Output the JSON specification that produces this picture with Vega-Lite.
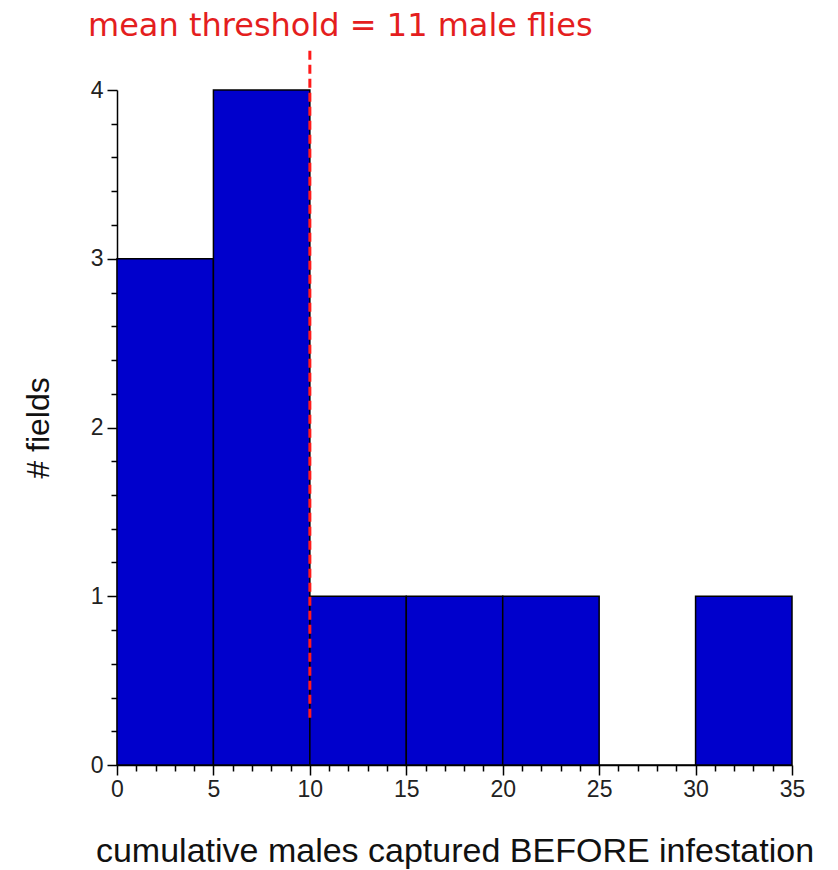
{
  "$schema": "https://vega.github.io/schema/vega-lite/v6.json",
  "width": 675,
  "height": 675,
  "autosize": {"type": "none"},
  "padding": {"left": 117, "top": 90, "right": 46, "bottom": 105},
  "background": "white",
  "config": {"view": {"stroke": null}},
  "title": {
    "text": "mean threshold = 11 male flies",
    "anchor": "start",
    "frame": "group",
    "dx": -29,
    "offset": -27,
    "baseline": "bottom",
    "font": "DejaVu Sans",
    "fontSize": 32,
    "fontWeight": "normal",
    "color": "#e41e1e"
  },
  "datasets": {
    "bins": [
      {"start": 0, "end": 5, "count": 3},
      {"start": 5, "end": 10, "count": 4},
      {"start": 10, "end": 15, "count": 1},
      {"start": 15, "end": 20, "count": 1},
      {"start": 20, "end": 25, "count": 1},
      {"start": 25, "end": 30, "count": 0},
      {"start": 30, "end": 35, "count": 1}
    ],
    "threshold": [{"x": 10, "ylo": 0.28, "yhi": 4.24}]
  },
  "resolve": {"axis": {"x": "independent", "y": "independent"}},
  "layer": [
    {
      "data": {"name": "bins"},
      "mark": {"type": "rect", "color": "#0000cc", "stroke": "black", "strokeWidth": 1.5},
      "encoding": {
        "x": {
          "field": "start", "type": "quantitative",
          "scale": {"domain": [0, 35], "nice": false, "zero": false},
          "axis": {
            "orient": "bottom",
            "values": [0, 5, 10, 15, 20, 25, 30, 35],
            "grid": false,
            "domainColor": "black", "domainWidth": 1.5,
            "tickColor": "black", "tickWidth": 1.5, "tickSize": 10,
            "labelFont": "Liberation Sans", "labelFontSize": 23, "labelColor": "#222",
            "labelPadding": 3, "labelFlush": false,
            "title": "cumulative males captured BEFORE infestation",
            "titleFont": "Liberation Sans", "titleFontSize": 34, "titleFontWeight": "normal",
            "titleColor": "#111", "titlePadding": 33
          }
        },
        "x2": {"field": "end"},
        "y": {
          "field": "count", "type": "quantitative",
          "scale": {"domain": [0, 4], "nice": false},
          "axis": {
            "orient": "left",
            "values": [0, 1, 2, 3, 4],
            "grid": false,
            "domainColor": "black", "domainWidth": 1.5,
            "tickColor": "black", "tickWidth": 1.5, "tickSize": 10,
            "labelFont": "Liberation Sans", "labelFontSize": 23, "labelColor": "#222",
            "labelPadding": 4, "labelFlush": false,
            "title": "# fields",
            "titleFont": "Liberation Sans", "titleFontSize": 32, "titleFontWeight": "normal",
            "titleColor": "#111", "titlePadding": 35
          }
        },
        "y2": {"datum": 0}
      }
    },
    {
      "data": {"name": "bins"},
      "mark": {"type": "rect", "opacity": 0},
      "encoding": {
        "x": {
          "field": "start", "type": "quantitative",
          "axis": {
            "orient": "bottom",
            "values": [1,2,3,4,6,7,8,9,11,12,13,14,16,17,18,19,21,22,23,24,26,27,28,29,31,32,33,34],
            "grid": false, "domain": false, "labels": false, "title": null,
            "tickColor": "black", "tickWidth": 1.5, "tickSize": 6
          }
        },
        "x2": {"field": "end"},
        "y": {
          "field": "count", "type": "quantitative",
          "axis": {
            "orient": "left",
            "values": [0.2,0.4,0.6,0.8,1.2,1.4,1.6,1.8,2.2,2.4,2.6,2.8,3.2,3.4,3.6,3.8],
            "grid": false, "domain": false, "labels": false, "title": null,
            "tickColor": "black", "tickWidth": 1.5, "tickSize": 6
          }
        },
        "y2": {"datum": 0}
      }
    },
    {
      "data": {"name": "threshold"},
      "mark": {"type": "rule", "color": "#ff1a1a", "strokeWidth": 3, "strokeDash": [9, 5]},
      "encoding": {
        "x": {"field": "x", "type": "quantitative", "axis": null},
        "y": {"field": "ylo", "type": "quantitative", "axis": null},
        "y2": {"field": "yhi"}
      }
    }
  ]
}
